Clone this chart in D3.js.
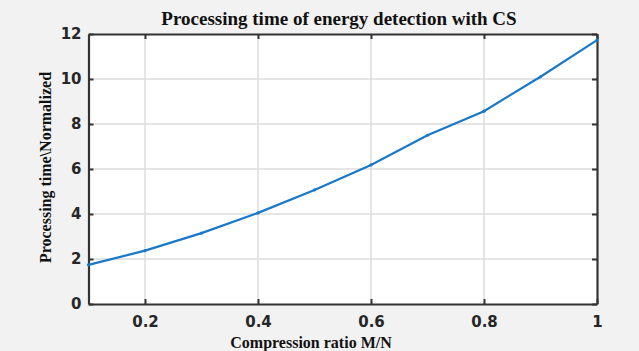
<!DOCTYPE html>
<html>
<head>
<meta charset="utf-8">
<script src="https://cdn.jsdelivr.net/npm/d3@7"></script>
<style>
  body { margin: 0; background: #f2f2f2; }
  svg { display: block; }
</style>
</head>
<body>
<div id="chart"></div>
<script>
// values
var ratio = [0.1, 0.2, 0.3, 0.4, 0.5, 0.6, 0.7, 0.8, 0.9, 1.0];
var timeNorm = [1.74, 2.37, 3.15, 4.05, 5.07, 6.18, 7.5, 8.57, 10.1, 11.73];
var xTicks = [0.2, 0.4, 0.6, 0.8, 1];
var yTicks = [0, 2, 4, 6, 8, 10, 12];

var width = 639, height = 351;
var margin = {top: 34, right: 42, bottom: 47, left: 88.5};

var svg = d3.select('#chart').append('svg')
    .attr('width', width)
    .attr('height', height);

svg.append('rect')
    .attr('width', width).attr('height', height)
    .attr('fill', '#f2f2f2');

var x = d3.scaleLinear().domain([0.1, 1]).range([margin.left, width - margin.right]);
var y = d3.scaleLinear().domain([0, 12]).range([height - margin.bottom, margin.top]);

// plot background
svg.append('rect')
    .attr('x', x(0.1)).attr('y', y(12))
    .attr('width', x(1) - x(0.1)).attr('height', y(0) - y(12))
    .attr('fill', '#fff');

// grid
svg.append('g').selectAll('line')
    .data(xTicks.filter(function(d) { return d < 1; }))
    .enter().append('line')
    .attr('x1', function(d) { return x(d); }).attr('x2', function(d) { return x(d); })
    .attr('y1', y(0)).attr('y2', y(12))
    .attr('stroke', '#dcdcdc').attr('stroke-width', 1.5);

svg.append('g').selectAll('line')
    .data(yTicks.filter(function(d) { return d > 0 && d < 12; }))
    .enter().append('line')
    .attr('y1', function(d) { return y(d); }).attr('y2', function(d) { return y(d); })
    .attr('x1', x(0.1)).attr('x2', x(1))
    .attr('stroke', '#dcdcdc').attr('stroke-width', 1.5);

// axes (ticks inward)
var tickFont = 'bold 15px "DejaVu Sans", Arial, sans-serif';

var xAxis = svg.append('g')
    .attr('transform', 'translate(0,' + y(0) + ')')
    .call(d3.axisBottom(x).tickValues(xTicks).tickSizeInner(-5).tickSizeOuter(0).tickPadding(12)
        .tickFormat(d3.format('')));
var xAxisTop = svg.append('g')
    .attr('transform', 'translate(0,' + y(12) + ')')
    .call(d3.axisTop(x).tickValues(xTicks).tickSizeInner(-5).tickSizeOuter(0).tickFormat(''));
var yAxis = svg.append('g')
    .attr('transform', 'translate(' + x(0.1) + ',0)')
    .call(d3.axisLeft(y).tickValues(yTicks).tickSizeInner(-5).tickSizeOuter(0).tickPadding(7));
var yAxisRight = svg.append('g')
    .attr('transform', 'translate(' + x(1) + ',0)')
    .call(d3.axisRight(y).tickValues(yTicks).tickSizeInner(-5).tickSizeOuter(0).tickFormat(''));

[xAxis, xAxisTop, yAxis, yAxisRight].forEach(function(g) {
    g.select('.domain').attr('stroke', '#333').attr('stroke-width', 2.2);
    g.selectAll('.tick line').attr('stroke', '#333').attr('stroke-width', 2);
    g.selectAll('text').style('font', tickFont).attr('fill', '#262626');
});

// the curve
var line = d3.line()
    .x(function(d, i) { return x(ratio[i]); })
    .y(function(d) { return y(d); });

svg.append('path')
    .datum(timeNorm)
    .attr('d', line)
    .attr('fill', 'none')
    .attr('stroke', '#1a78c8')
    .attr('stroke-width', 2.2);

svg.append('g').selectAll('circle')
    .data(timeNorm)
    .enter().append('circle')
    .attr('cx', function(d, i) { return x(ratio[i]); })
    .attr('cy', function(d) { return y(d); })
    .attr('r', 1.6)
    .attr('fill', '#1a78c8');

// titles
var serif = '"Liberation Serif", "Times New Roman", serif';
svg.append('text')
    .attr('x', 339).attr('y', 25)
    .attr('text-anchor', 'middle')
    .style('font', 'bold 19px ' + serif)
    .attr('fill', '#111')
    .text('Processing time of energy detection with CS');

svg.append('text')
    .attr('x', 311).attr('y', 348)
    .attr('text-anchor', 'middle')
    .style('font', 'bold 16px ' + serif)
    .attr('fill', '#111')
    .text('Compression ratio M/N');

svg.append('text')
    .attr('transform', 'translate(51,167.5) rotate(-90)')
    .attr('text-anchor', 'middle')
    .style('font', 'bold 16px ' + serif)
    .attr('fill', '#111')
    .text('Processing time\\Normalized');
</script>
</body>
</html>
